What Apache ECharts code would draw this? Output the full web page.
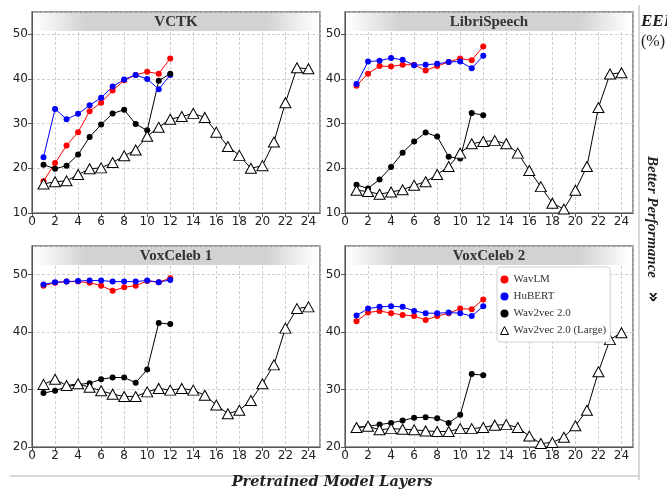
<!DOCTYPE html>
<html>
<head>
<meta charset="utf-8">
<script src="https://cdn.jsdelivr.net/npm/echarts@6/dist/echarts.min.js"></script>
<style>
  html, body { margin: 0; padding: 0; background: #fff; }
  #chart { width: 667px; height: 489px; }
</style>
</head>
<body>
<div id="chart"></div>
<script>
// layer indices
var baseLayers = [1, 2, 3, 4, 5, 6, 7, 8, 9, 10, 11, 12];
var largeLayers = [1, 2, 3, 4, 5, 6, 7, 8, 9, 10, 11, 12, 13, 14, 15, 16, 17, 18, 19, 20, 21, 22, 23, 24];

var panelNames = ['VCTK', 'LibriSpeech', 'VoxCeleb 1', 'VoxCeleb 2'];
var seriesNames = ['WavLM', 'HuBERT', 'Wav2vec 2.0', 'Wav2vec 2.0 (Large)'];

// EER (%) per layer
var vctkWavlm = [17.1, 21.2, 25.1, 28.1, 32.8, 34.7, 37.4, 39.7, 40.9, 41.6, 41.2, 44.6];
var vctkHubert = [22.5, 33.3, 31.0, 32.2, 34.1, 35.8, 38.3, 39.9, 40.9, 40.0, 37.7, 40.9];
var vctkW2v = [20.8, 19.9, 20.6, 23.1, 27.0, 29.8, 32.3, 33.1, 29.9, 28.5, 39.6, 41.2];
var vctkLarge = [16.5, 17.0, 17.2, 18.6, 19.9, 20.1, 21.3, 22.8, 24.1, 27.2, 29.2, 31.0,
                 31.6, 32.3, 31.4, 28.1, 24.9, 22.9, 20.0, 20.6, 25.9, 34.7, 42.5, 42.3];

var libriWavlm = [38.5, 41.2, 42.9, 42.8, 43.2, 43.2, 41.9, 42.9, 43.8, 44.6, 44.2, 47.3];
var libriHubert = [38.9, 43.9, 44.1, 44.7, 44.3, 43.1, 43.2, 43.4, 43.8, 43.9, 42.4, 45.2];
var libriW2v = [16.3, 15.5, 17.5, 20.3, 23.5, 26.0, 28.0, 27.1, 22.6, 22.2, 32.4, 31.9];
var libriLarge = [15.1, 14.8, 14.2, 14.7, 15.2, 16.2, 17.0, 18.6, 20.4, 23.4, 25.5, 26.0,
                  26.2, 25.5, 23.4, 19.5, 15.9, 12.2, 10.9, 15.1, 20.4, 33.6, 41.1, 41.4];

var vox1Wavlm = [48.1, 48.6, 48.8, 48.8, 48.6, 48.1, 47.2, 47.8, 48.1, 48.9, 48.7, 49.4];
var vox1Hubert = [48.3, 48.7, 48.8, 48.9, 49.0, 49.0, 48.8, 48.8, 48.8, 49.0, 48.7, 49.1];
var vox1W2v = [29.4, 29.8, 30.5, 30.9, 31.1, 31.8, 32.1, 32.1, 31.2, 33.5, 41.6, 41.4];
var vox1Large = [30.9, 31.8, 30.7, 31.0, 30.4, 29.8, 29.2, 28.8, 28.8, 29.6, 30.2, 29.9,
                 30.2, 29.9, 29.0, 27.3, 25.8, 26.4, 28.1, 31.0, 34.3, 40.7, 44.1, 44.4];

var vox2Wavlm = [41.9, 43.4, 43.7, 43.3, 43.0, 42.8, 42.1, 42.8, 43.3, 44.1, 44.0, 45.7];
var vox2Hubert = [42.9, 44.1, 44.4, 44.5, 44.4, 43.7, 43.3, 43.3, 43.4, 43.3, 42.8, 44.5];
var vox2W2v = [23.4, 23.6, 23.9, 24.2, 24.6, 25.1, 25.2, 25.0, 24.2, 25.6, 32.7, 32.5];
var vox2Large = [23.4, 23.6, 23.0, 23.2, 23.1, 23.0, 22.8, 22.7, 22.7, 23.2, 23.2, 23.4,
                 23.8, 23.9, 23.4, 21.9, 20.6, 20.8, 21.7, 23.7, 26.4, 33.1, 38.7, 39.9];

var panelData = [
  [vctkWavlm, vctkHubert, vctkW2v, vctkLarge],
  [libriWavlm, libriHubert, libriW2v, libriLarge],
  [vox1Wavlm, vox1Hubert, vox1W2v, vox1Large],
  [vox2Wavlm, vox2Hubert, vox2W2v, vox2Large]
];
var yMins = [10, 10, 20, 20];

var chart = echarts.init(document.getElementById('chart'));

var grids = [
  {left: 32, top: 12},
  {left: 345, top: 12},
  {left: 32, top: 246},
  {left: 345, top: 246}
];
var gw = 288, gh = 201;

function pairs(xs, ys) {
  return ys.map(function (v, i) { return [xs[i], v]; });
}

var colors = ['#ff0000', '#0000ff', '#000000', '#000000'];
var series = [];
var xAxes = [], yAxes = [], gridOpts = [], graphics = [];
var labelStyle = {color: '#222', fontSize: 12, fontFamily: 'DejaVu Sans'};

grids.forEach(function (g, k) {
  gridOpts.push({left: g.left, top: g.top, width: gw, height: gh, show: true,
    borderColor: '#7a7a7a', borderWidth: 1.5, backgroundColor: '#fff'});
  xAxes.push({type: 'value', gridIndex: k, min: 0, max: 25, interval: 2,
    axisLine: {show: true, lineStyle: {color: '#555'}},
    axisTick: {show: true, length: 4, lineStyle: {color: '#555'}},
    axisLabel: Object.assign({margin: 3, showMaxLabel: false}, labelStyle),
    splitLine: {show: true, lineStyle: {color: '#c4c4c4', type: [3, 2], width: 0.8}}});
  yAxes.push({type: 'value', gridIndex: k, min: yMins[k], max: 55, interval: 10,
    axisLine: {show: true, lineStyle: {color: '#555'}},
    axisTick: {show: true, length: 4, lineStyle: {color: '#555'}},
    axisLabel: Object.assign({margin: 4, showMaxLabel: false}, labelStyle),
    splitLine: {show: true, lineStyle: {color: '#c4c4c4', type: [3, 2], width: 0.8}}});

  // title band
  graphics.push({type: 'rect', z: 3, silent: true,
    shape: {x: g.left + 3, y: g.top + 1, width: gw - 6, height: 18},
    style: {fill: {type: 'linear', x: 0, y: 0, x2: 1, y2: 0, colorStops: [
      {offset: 0, color: '#ffffff'}, {offset: 0.18, color: '#d2d2d2'},
      {offset: 0.82, color: '#d2d2d2'}, {offset: 1, color: '#ffffff'}]}}});
  graphics.push({type: 'text', z: 4, silent: true, x: g.left + gw / 2, y: g.top + 10,
    style: {text: panelNames[k], fill: '#333', font: 'bold 15px "Liberation Serif"',
      align: 'center', verticalAlign: 'middle'}});

  panelData[k].forEach(function (vals, s) {
    var isLarge = s === 3;
    series.push({
      name: seriesNames[s], type: 'line', xAxisIndex: k, yAxisIndex: k,
      data: pairs(isLarge ? largeLayers : baseLayers, vals),
      symbol: isLarge ? 'triangle' : 'circle',
      symbolSize: isLarge ? [11, 10] : 6,
      showAllSymbol: true, animation: false,
      lineStyle: {color: colors[s], width: 1},
      itemStyle: isLarge ? {color: '#fff', borderColor: '#000', borderWidth: 1}
                         : {color: colors[s], borderWidth: 0}
    });
  });
});

// frame lines and side / bottom texts
graphics.push({type: 'line', silent: true, shape: {x1: 639, y1: 5, x2: 639, y2: 480},
  style: {stroke: '#b0b0b0', lineWidth: 1}});
graphics.push({type: 'line', silent: true, shape: {x1: 10, y1: 476, x2: 639, y2: 476},
  style: {stroke: '#b0b0b0', lineWidth: 1}});
graphics.push({type: 'text', silent: true, x: 332, y: 482,
  style: {text: 'Pretrained Model Layers', fill: '#222', font: 'italic bold 14.5px "DejaVu Serif"',
    align: 'center', verticalAlign: 'middle'}});
graphics.push({type: 'text', silent: true, x: 641, y: 22,
  style: {text: 'EER', fill: '#222', font: 'italic bold 17px "Liberation Serif"',
    align: 'left', verticalAlign: 'middle'}});
graphics.push({type: 'text', silent: true, x: 641, y: 42,
  style: {text: '(%)', fill: '#222', font: '16px "Liberation Serif"',
    align: 'left', verticalAlign: 'middle'}});
graphics.push({type: 'text', silent: true, x: 652, y: 217, rotation: -Math.PI / 2,
  style: {text: 'Better Performance', fill: '#222', font: 'italic bold 15px "Liberation Serif"',
    align: 'center', verticalAlign: 'middle'}});
graphics.push({type: 'text', silent: true, x: 652, y: 297, rotation: -Math.PI / 2,
  style: {text: '\u00bb', fill: '#111', font: 'bold 17px "DejaVu Sans"',
    align: 'center', verticalAlign: 'middle'}});

chart.setOption({
  animation: false,
  grid: gridOpts,
  xAxis: xAxes,
  yAxis: yAxes,
  series: series,
  graphic: graphics,
  legend: {
    left: 497, top: 267, orient: 'vertical',
    backgroundColor: '#fff', borderColor: '#d0d0d0', borderWidth: 1, borderRadius: 3,
    padding: [7, 4, 6, 3], itemGap: 6, itemWidth: 8, itemHeight: 8,
    selectedMode: false,
    textStyle: {fontFamily: 'Liberation Serif', fontSize: 11, color: '#333'},
    data: [
      {name: 'WavLM', icon: 'circle', itemStyle: {color: '#ff0000'}},
      {name: 'HuBERT', icon: 'circle', itemStyle: {color: '#0000ff'}},
      {name: 'Wav2vec 2.0', icon: 'circle', itemStyle: {color: '#000'}},
      {name: 'Wav2vec 2.0 (Large)', icon: 'triangle',
        itemStyle: {color: '#fff', borderColor: '#000', borderWidth: 1}}
    ]
  }
});
</script>
</body>
</html>
